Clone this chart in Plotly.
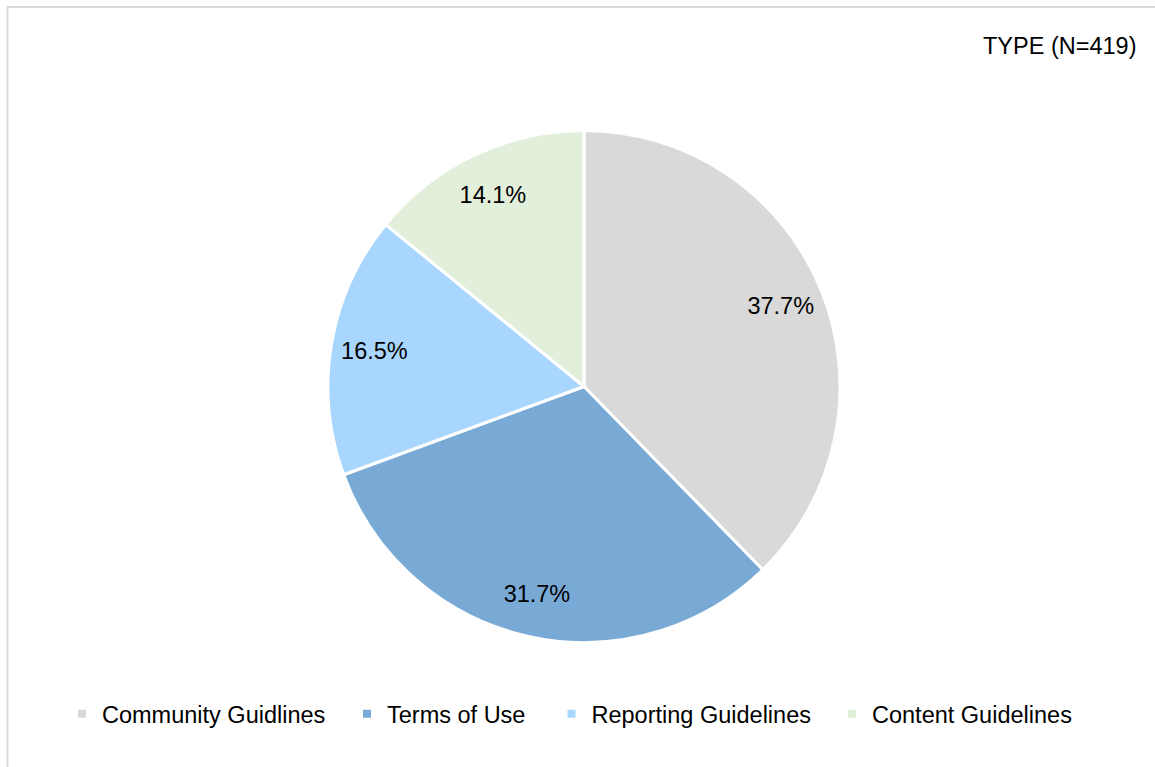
import plotly.graph_objects as go

# Share of documents by type (N=419)
categories = ["Community Guidlines", "Terms of Use", "Reporting Guidelines", "Content Guidelines"]
shares = [37.7, 31.7, 16.5, 14.1]
slice_colors = ["#D9D9D9", "#79AAD6", "#A9D6FE", "#E2EFDA"]
title_text = "TYPE (N=419)"

W, H = 1155, 767
FONT = "Liberation Sans, Arial, sans-serif"
FS = 23.5

# pie placement (pixels): centre and radius
cx, cy, r = 584, 386.5, 256
pie_domain = dict(x=[(cx - r) / W, (cx + r) / W], y=[1 - (cy + r) / H, 1 - (cy - r) / H])

fig = go.Figure()

# the slices themselves
fig.add_trace(go.Pie(
    labels=categories,
    values=shares,
    sort=False,
    direction="clockwise",
    rotation=0,
    marker=dict(colors=slice_colors, line=dict(color="white", width=3)),
    textinfo="none",
    hoverinfo="label+percent",
    domain=pie_domain,
    showlegend=False,
))

# transparent ring on top carrying the value labels near the rim
fig.add_trace(go.Pie(
    labels=categories,
    values=shares,
    sort=False,
    direction="clockwise",
    rotation=0,
    hole=0.66,
    marker=dict(colors=["rgba(0,0,0,0)"] * len(categories), line=dict(width=0)),
    texttemplate="%{value:.1f}%",
    textposition="inside",
    insidetextorientation="horizontal",
    textfont=dict(family=FONT, size=FS, color="#000000"),
    hoverinfo="skip",
    domain=pie_domain,
    showlegend=False,
))

# legend entries, one legend per category so each can be spaced on its own
legend_names = ["legend", "legend2", "legend3", "legend4"]
legend_text_x = [102, 387, 591.5, 872]
for name, col, lg in zip(categories, slice_colors, legend_names):
    fig.add_trace(go.Scatter(
        x=[None], y=[None], mode="markers", name=name,
        marker=dict(symbol="square", size=8, color=col, line=dict(width=0)),
        legend=lg, hoverinfo="skip",
    ))

legend_common = dict(
    orientation="h", xanchor="left", y=1 - 714 / H, yanchor="middle",
    font=dict(family=FONT, size=FS, color="#000000"),
    bgcolor="rgba(0,0,0,0)", itemclick=False, itemdoubleclick=False,
)
legend_layout = {lg: dict(legend_common, x=(tx - 40) / W) for lg, tx in zip(legend_names, legend_text_x)}

fig.update_layout(
    width=W, height=H,
    margin=dict(l=0, r=0, t=0, b=0),
    paper_bgcolor="white",
    plot_bgcolor="white",
    font=dict(family=FONT, size=FS, color="#000000"),
    uniformtext=dict(minsize=FS, mode="show"),
    xaxis=dict(visible=False),
    yaxis=dict(visible=False),
    annotations=[dict(
        text=title_text, xref="paper", yref="paper",
        x=1138 / W, y=1 - 46 / H, xanchor="right", yanchor="middle",
        showarrow=False, font=dict(family=FONT, size=FS, color="#000000"),
    )],
    shapes=[dict(
        type="rect", xref="paper", yref="paper",
        x0=7.5 / W, x1=1.01, y0=-0.01, y1=1 - 7 / H,
        line=dict(color="#D9D9D9", width=2), fillcolor="rgba(0,0,0,0)", layer="below",
    )],
    **legend_layout,
)

fig.write_html("out.html")
